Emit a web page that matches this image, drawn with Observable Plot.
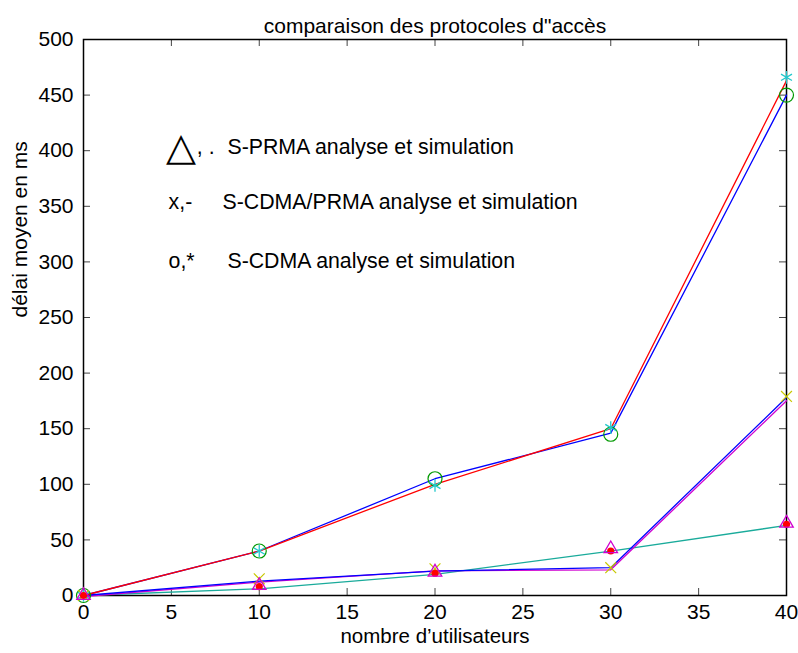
<!DOCTYPE html>
<html>
<head>
<meta charset="utf-8">
<script src="https://cdn.jsdelivr.net/npm/d3@7"></script>
<script src="https://cdn.jsdelivr.net/npm/@observablehq/plot@0.6"></script>
<style>
  body { margin: 0; background: #fff; }
  #chart { width: 798px; height: 653px; }
</style>
</head>
<body>
<div id="chart"></div>
<script>
// Data
const users = [0, 10, 20, 30, 40];
// S-CDMA
const cdmaAnalyseLine = [0, 40, 105, 146, 450];   // blue line (upper)
const cdmaSimLine     = [0, 40, 100, 150, 463];   // red line (upper)
const cdmaCircles     = [0, 40, 105, 145, 450];   // o
const cdmaStars       = [0, 40, 99, 151, 466];    // *
// S-CDMA/PRMA
const cdmaPrmaBlue    = [0, 13, 22, 25, 178];
const cdmaPrmaMagenta = [0, 13, 23, 24, 176];
const cdmaPrmaX       = [0, 15, 24, 25, 179];     // x
// S-PRMA
const prmaLine        = [0, 6, 19, 40, 63];       // teal line
const prmaTriangles   = [0, 9, 21, 42, 65];       // triangles
const prmaDots        = [0, 8, 20, 40, 64];       // dots

const xTicks = [0, 5, 10, 15, 20, 25, 30, 35, 40];
const yTicks = [0, 50, 100, 150, 200, 250, 300, 350, 400, 450, 500];

const title = "comparaison des protocoles d\"accès";
const xLabel = "nombre d’utilisateurs";
const yLabel = "délai moyen en ms";

// Annotation legend (data coordinates)
const legendSymbol = [{x: 5.52, y: 403, t: "△"}];
const legendTexts = [
  {x: 6.45, y: 403.5, t: ", ."},
  {x: 8.19, y: 403.5, t: "S-PRMA analyse et simulation"},
  {x: 4.84, y: 354, t: "x,-"},
  {x: 7.91, y: 354, t: "S-CDMA/PRMA analyse et simulation"},
  {x: 4.84, y: 301, t: "o,*"},
  {x: 8.19, y: 301, t: "S-CDMA analyse et simulation"}
];

const mk = arr => users.map((u, i) => ({x: u, y: arr[i]}));
const FH = 653 - 39 - 58;   // frame height
const FW = 798 - 83 - 12;   // frame width
const TL = 7;               // tick length

const chart = Plot.plot({
  width: 798,
  height: 653,
  marginLeft: 83,
  marginRight: 12,
  marginTop: 39,
  marginBottom: 58,
  style: {fontFamily: "'Liberation Sans', Arial, sans-serif", fontSize: "21px", color: "black", background: "white"},
  x: {domain: [0, 40]},
  y: {domain: [0, 500]},
  marks: [
    Plot.axisX({ticks: xTicks, tickSize: 0, tickPadding: 9, label: null, fontSize: 21}),
    Plot.axisY({ticks: yTicks, tickSize: 0, tickPadding: 10, label: null, fontSize: 21}),
    // inward ticks on all four sides
    Plot.tickX(xTicks, {x: d => d, insetTop: FH - TL, stroke: "#444", strokeWidth: 1}),
    Plot.tickX(xTicks, {x: d => d, insetBottom: FH - TL, stroke: "#444", strokeWidth: 1}),
    Plot.tickY(yTicks, {y: d => d, insetRight: FW - TL, stroke: "#444", strokeWidth: 1}),
    Plot.tickY(yTicks, {y: d => d, insetLeft: FW - TL, stroke: "#444", strokeWidth: 1}),
    Plot.frame({stroke: "black", strokeWidth: 1.5}),
    // lower lines
    Plot.line(mk(prmaLine), {x: "x", y: "y", stroke: "#1aab9b", strokeWidth: 1.3}),
    Plot.line(mk(cdmaPrmaMagenta), {x: "x", y: "y", stroke: "#d000d0", strokeWidth: 1.3, dy: 1}),
    Plot.line(mk(cdmaPrmaBlue), {x: "x", y: "y", stroke: "#0000ff", strokeWidth: 1.3}),
    // upper lines
    Plot.line(mk(cdmaAnalyseLine), {x: "x", y: "y", stroke: "#0000ff", strokeWidth: 1.3}),
    Plot.line(mk(cdmaSimLine), {x: "x", y: "y", stroke: "#ff0000", strokeWidth: 1.3}),
    // markers
    Plot.dot(mk(cdmaCircles), {x: "x", y: "y", r: 7, stroke: "#009900", strokeWidth: 1.2, fill: "none"}),
    Plot.dot(mk(cdmaStars), {x: "x", y: "y", symbol: "asterisk", r: 6, stroke: "#22c8cc", strokeWidth: 1.3}),
    Plot.dot(mk(cdmaPrmaX), {x: "x", y: "y", symbol: "times", r: 5, stroke: "#c8c800", strokeWidth: 1.2}),
    Plot.dot(mk(prmaDots), {x: "x", y: "y", r: 3.6, fill: "#ff0000", stroke: "none"}),
    Plot.dot(mk(prmaTriangles), {x: "x", y: "y", symbol: "triangle", r: 5, stroke: "#d000d0", strokeWidth: 1.3, fill: "none"}),
    // legend annotations
    Plot.text(legendSymbol, {x: "x", y: "y", text: "t", fontSize: 39, textAnchor: "middle", fill: "black"}),
    Plot.text(legendTexts, {x: "x", y: "y", text: "t", fontSize: 21.3, textAnchor: "start", fill: "black"}),
    // title and axis labels
    Plot.text([title], {frameAnchor: "top", dy: -21, text: d => d, fontSize: 21, fill: "black"}),
    Plot.text([xLabel], {frameAnchor: "bottom", dy: 47, text: d => d, fontSize: 20.5, fill: "black"}),
    Plot.text([yLabel], {frameAnchor: "left", dx: -63, rotate: -90, text: d => d, fontSize: 21, fill: "black"})
  ]
});
document.getElementById("chart").appendChild(chart);
</script>
</body>
</html>
